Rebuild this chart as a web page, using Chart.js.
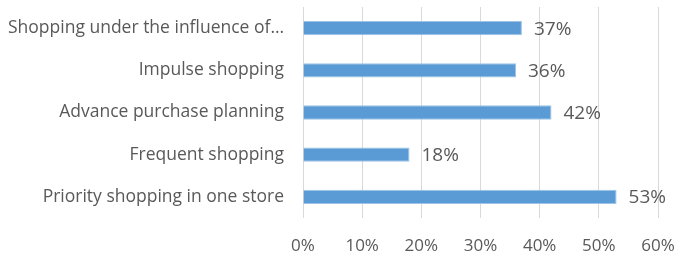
<!DOCTYPE html>
<html>
<head>
<meta charset="utf-8">
<script src="https://cdn.jsdelivr.net/npm/chart.js@4/dist/chart.umd.min.js"></script>
<style>
  html, body { margin: 0; padding: 0; background: #fff; }
  #wrap { width: 678px; height: 254px; }
</style>
</head>
<body>
<div id="wrap"><canvas id="chart"></canvas></div>
<script>
let categories = [
    'Shopping under the influence of\u2026',
    'Impulse shopping',
    'Advance purchase planning',
    'Frequent shopping',
    'Priority shopping in one store'
];
let shares = [37, 36, 42, 18, 53];
let x_ticks = [0, 10, 20, 30, 40, 50, 60];

let FONT = '"Open Sans", sans-serif';
let TEXT_COLOR = '#595959';

// value labels to the right of each bar
let bar_labels = {
    id: 'bar_labels',
    afterDatasetsDraw: function(chart) {
        let ctx = chart.ctx;
        let meta = chart.getDatasetMeta(0);
        ctx.save();
        ctx.font = '19px ' + FONT;
        ctx.fillStyle = TEXT_COLOR;
        ctx.textAlign = 'left';
        ctx.textBaseline = 'middle';
        meta.data.forEach(function(bar, i) {
            ctx.fillText(shares[i] + '%', bar.x + 12, bar.y + 1);
        });
        ctx.restore();
    }
};

window.onload = function() {
    new Chart(document.getElementById('chart'), {
        type: 'bar',
        data: {
            labels: categories,
            datasets: [{
                data: shares,
                backgroundColor: '#5B9BD5',
                borderColor: '#9DC3E6',
                borderWidth: 1,
                categoryPercentage: 1,
                barPercentage: 0.34
            }]
        },
        options: {
            indexAxis: 'y',
            responsive: true,
            maintainAspectRatio: false,
            animation: false,
            layout: { padding: { top: 7, right: 20, left: 0, bottom: 0 } },
            plugins: {
                legend: { display: false },
                tooltip: { enabled: false }
            },
            scales: {
                x: {
                    min: 0,
                    max: 60,
                    afterBuildTicks: function(scale) {
                        scale.ticks = x_ticks.map(function(v) { return { value: v }; });
                    },
                    afterFit: function(scale) {
                        scale.height = 36;
                        scale.paddingLeft = 0;
                        scale.paddingRight = 0;
                    },
                    grid: { color: '#d9d9d9', lineWidth: 1, drawTicks: false },
                    border: { display: false },
                    ticks: {
                        padding: 18,
                        color: TEXT_COLOR,
                        font: { family: FONT, size: 17 },
                        callback: function(v) { return v + '%'; }
                    }
                },
                y: {
                    afterFit: function(scale) {
                        scale.width = 303;
                        scale.paddingTop = 0;
                        scale.paddingBottom = 0;
                    },
                    grid: { display: false, drawTicks: false },
                    border: { display: false },
                    ticks: {
                        padding: 19,
                        color: TEXT_COLOR,
                        font: { family: FONT, size: 17.5 }
                    }
                }
            }
        },
        plugins: [bar_labels]
    });
};
</script>
</body>
</html>
